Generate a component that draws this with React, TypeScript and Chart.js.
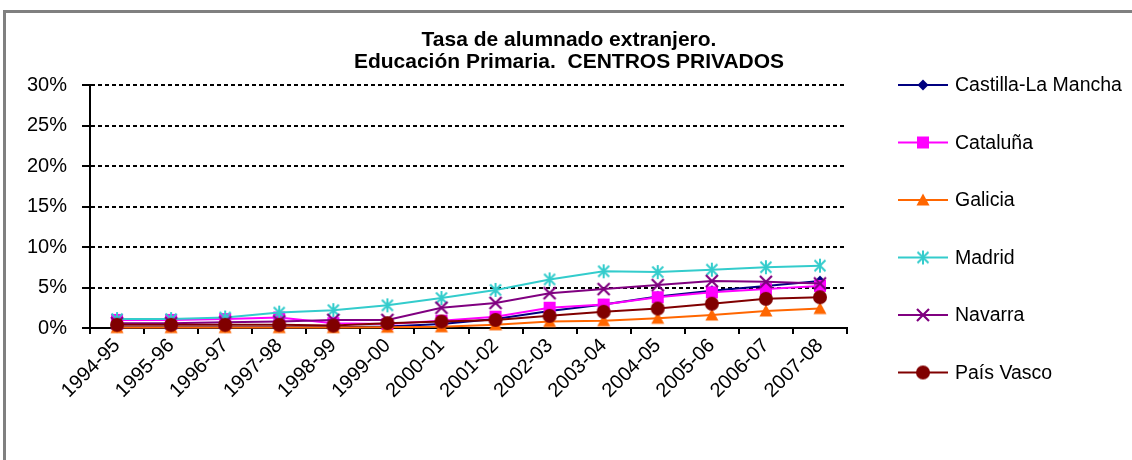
import React, { useEffect, useRef } from "react";
import { Chart, registerables } from "chart.js";

Chart.register(...registerables);

// ---- data ----
const categories = [
  "1994-95", "1995-96", "1996-97", "1997-98", "1998-99", "1999-00", "2000-01",
  "2001-02", "2002-03", "2003-04", "2004-05", "2005-06", "2006-07", "2007-08",
];
const castillaLaMancha = [0.1, 0.1, 0.1, 0.1, 0.1, 0.2, 0.5, 1.1, 2.1, 2.9, 3.9, 4.6, 5.2, 5.8];
const cataluna = [1.0, 1.0, 1.1, 1.3, 0.6, 0.5, 0.9, 1.4, 2.5, 2.9, 3.8, 4.4, 4.8, 5.2];
const galicia = [0.05, 0.05, 0.05, 0.05, 0.05, 0.1, 0.15, 0.4, 0.8, 0.9, 1.2, 1.6, 2.1, 2.4];
const madrid = [1.1, 1.1, 1.3, 1.9, 2.2, 2.8, 3.7, 4.7, 6.0, 7.0, 6.9, 7.2, 7.5, 7.7];
const navarra = [0.6, 0.6, 0.7, 0.8, 1.0, 1.0, 2.5, 3.1, 4.3, 4.8, 5.3, 5.8, 5.7, 5.5];
const paisVasco = [0.4, 0.4, 0.4, 0.4, 0.3, 0.6, 0.8, 1.0, 1.5, 2.0, 2.4, 3.0, 3.6, 3.8];

const seriesNames = ["Castilla-La Mancha", "Cataluña", "Galicia", "Madrid", "Navarra", "País Vasco"];
const seriesValues = [castillaLaMancha, cataluna, galicia, madrid, navarra, paisVasco];
const seriesColors = ["#000080", "#FF00FF", "#FF6600", "#33CCCC", "#800080", "#800000"];
const seriesMarkers = ["diamond", "square", "triangle", "star", "x", "circle"];

const titleLines = ["Tasa de alumnado extranjero.", "Educación Primaria.  CENTROS PRIVADOS"];
const yMin = 0;
const yMax = 30;
const yStep = 5;

const FONT = '"Liberation Sans", Arial, Helvetica, sans-serif';

function makeMarker(kind: string, color: string): HTMLCanvasElement {
  const s = 18;
  const cv = document.createElement("canvas");
  cv.width = s;
  cv.height = s;
  const ctx = cv.getContext("2d")!;
  const c = s / 2;
  ctx.fillStyle = color;
  ctx.strokeStyle = color;
  ctx.lineCap = "butt";
  switch (kind) {
    case "diamond":
      ctx.beginPath();
      ctx.moveTo(c, c - 5.5);
      ctx.lineTo(c + 5.5, c);
      ctx.lineTo(c, c + 5.5);
      ctx.lineTo(c - 5.5, c);
      ctx.closePath();
      ctx.fill();
      break;
    case "square":
      ctx.fillRect(c - 6, c - 6, 12, 12);
      break;
    case "triangle":
      ctx.beginPath();
      ctx.moveTo(c, c - 6.5);
      ctx.lineTo(c + 6.5, c + 5.5);
      ctx.lineTo(c - 6.5, c + 5.5);
      ctx.closePath();
      ctx.fill();
      break;
    case "star":
      ctx.lineWidth = 2;
      ctx.beginPath();
      ctx.moveTo(c - 5.5, c - 5.5);
      ctx.lineTo(c + 5.5, c + 5.5);
      ctx.moveTo(c + 5.5, c - 5.5);
      ctx.lineTo(c - 5.5, c + 5.5);
      ctx.moveTo(c, c - 7);
      ctx.lineTo(c, c + 7);
      ctx.stroke();
      break;
    case "x":
      ctx.lineWidth = 2.2;
      ctx.beginPath();
      ctx.moveTo(c - 6, c - 6);
      ctx.lineTo(c + 6, c + 6);
      ctx.moveTo(c + 6, c - 6);
      ctx.lineTo(c - 6, c + 6);
      ctx.stroke();
      break;
    default:
      ctx.beginPath();
      ctx.arc(c, c, 7, 0, Math.PI * 2);
      ctx.fill();
  }
  return cv;
}

const titlePlugin = {
  id: "excelTitle",
  afterDraw(chart: any) {
    const ctx = chart.ctx;
    ctx.save();
    ctx.fillStyle = "#000";
    ctx.font = `bold 21px ${FONT}`;
    ctx.textAlign = "center";
    ctx.textBaseline = "middle";
    ctx.fillText(titleLines[0], 569, 40);
    ctx.fillText(titleLines[1], 569, 62);
    ctx.restore();
  },
};

const legendPlugin = {
  id: "sideLegend",
  afterDraw(chart: any) {
    const ctx = chart.ctx;
    chart.data.datasets.forEach((ds: any, i: number) => {
      const y = 85 + i * 57.5;
      ctx.save();
      ctx.strokeStyle = ds.borderColor;
      ctx.lineWidth = 2;
      ctx.beginPath();
      ctx.moveTo(898, y);
      ctx.lineTo(948, y);
      ctx.stroke();
      const img = ds.pointStyle as HTMLCanvasElement;
      ctx.drawImage(img, 923 - img.width / 2, y - img.height / 2);
      ctx.fillStyle = "#000";
      ctx.font = `19.5px ${FONT}`;
      ctx.textAlign = "left";
      ctx.textBaseline = "middle";
      ctx.fillText(ds.label, 955, y + 1);
      ctx.restore();
    });
  },
};

export default function App() {
  const canvasRef = useRef<HTMLCanvasElement | null>(null);

  useEffect(() => {
    if (!canvasRef.current) return;
    const datasets = seriesNames.map((name, i) => ({
      label: name,
      data: seriesValues[i],
      borderColor: seriesColors[i],
      backgroundColor: seriesColors[i],
      borderWidth: 2,
      tension: 0,
      fill: false,
      pointStyle: makeMarker(seriesMarkers[i], seriesColors[i]),
      pointRadius: 6,
      pointHoverRadius: 6,
      clip: false as any,
      order: seriesNames.length - i,
    }));

    const chart = new Chart(canvasRef.current, {
      type: "line",
      data: { labels: categories, datasets },
      options: {
        animation: false,
        responsive: false,
        devicePixelRatio: 1,
        layout: { padding: { top: 85, right: 285, bottom: 0, left: 0 } },
        plugins: {
          legend: { display: false },
          title: { display: false },
          tooltip: { enabled: false },
        },
        scales: {
          x: {
            type: "category",
            offset: true,
            afterFit: (s: any) => {
              s.height = 132;
            },
            grid: {
              display: true,
              drawOnChartArea: false,
              drawTicks: true,
              tickLength: 6,
              color: "#000",
              lineWidth: 2,
              offset: true,
            },
            border: { display: true, color: "#000", width: 2 },
            ticks: {
              autoSkip: false,
              maxRotation: 45,
              minRotation: 45,
              padding: 0,
              color: "#000",
              font: { size: 20, family: FONT },
            },
          },
          y: {
            min: yMin,
            max: yMax,
            afterFit: (s: any) => {
              s.width = 90;
            },
            grid: {
              color: "#000",
              lineWidth: 2,
              tickLength: 8,
              tickColor: "#000",
              tickWidth: 2,
              tickBorderDash: [],
            },
            border: { display: true, color: "#000", width: 2, dash: [4, 3] },
            ticks: {
              stepSize: yStep,
              padding: 15,
              color: "#000",
              font: { size: 20, family: FONT },
              callback: (v: any) => `${v}%`,
            },
          },
        },
      },
      plugins: [titlePlugin, legendPlugin],
    });
    return () => chart.destroy();
  }, []);

  return (
    <div
      style={{
        position: "fixed",
        left: 0,
        top: 0,
        width: 1132,
        height: 460,
        overflow: "hidden",
        background: "#fff",
      }}
    >
      <div
        style={{
          position: "absolute",
          left: 3,
          top: 10,
          width: 1150,
          height: 480,
          border: "3px solid #808080",
          boxSizing: "border-box",
        }}
      />
      <canvas
        ref={canvasRef}
        width={1132}
        height={460}
        style={{ position: "absolute", left: 0, top: 0, width: 1132, height: 460 }}
      />
    </div>
  );
}
